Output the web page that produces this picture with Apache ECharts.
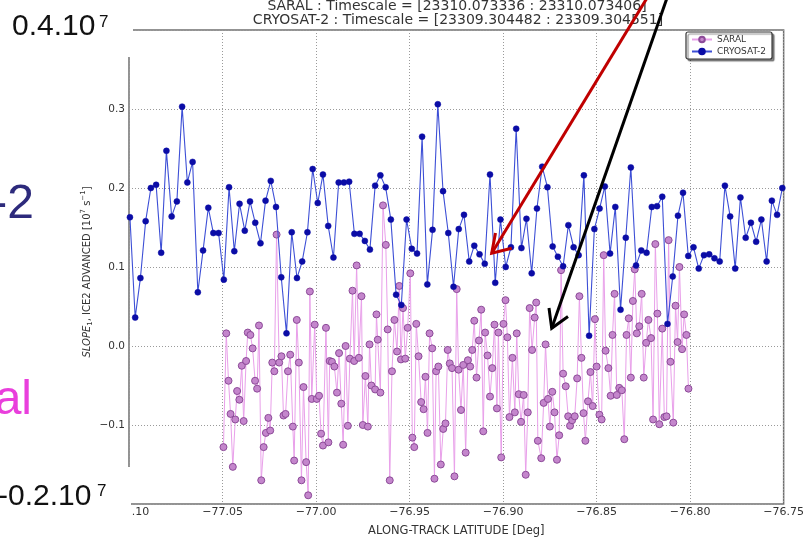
<!DOCTYPE html>
<html>
<head>
<meta charset="utf-8">
<script src="https://cdn.jsdelivr.net/npm/echarts@6/dist/echarts.min.js"></script>
<style>
html,body{margin:0;padding:0;background:#fff;}
#c{width:807px;height:542px;}
</style>
</head>
<body>
<div id="c"></div>
<script>
// ---------- DATA ----------
const titleLines = [
  "SARAL : Timescale = [23310.073336 : 23310.073406]",
  "CRYOSAT-2 : Timescale = [23309.304482 : 23309.304551]"
];
const seriesNames = ["SARAL", "CRYOSAT-2"];
const yAxisTitle = '{i|SLOPE}{sb|1}{n|, ICE2 ADVANCED [10}{sp|7}{n| s}{sp|\u22121}{n|]}';

const cryoLat = [
-77.0995,-77.0967,-77.0939,-77.0911,-77.0883,-77.0855,-77.0828,-77.0800,-77.0772,-77.0744,
-77.0716,-77.0688,-77.0660,-77.0632,-77.0604,-77.0576,-77.0549,-77.0521,-77.0493,-77.0465,
-77.0437,-77.0409,-77.0381,-77.0353,-77.0325,-77.0297,-77.0270,-77.0242,-77.0214,-77.0186,
-77.0158,-77.0130,-77.0102,-77.0074,-77.0046,-77.0018,-76.9991,-76.9963,-76.9935,-76.9907,
-76.9879,-76.9851,-76.9823,-76.9795,-76.9767,-76.9739,-76.9712,-76.9684,-76.9656,-76.9628,
-76.9600,-76.9572,-76.9544,-76.9516,-76.9488,-76.9460,-76.9433,-76.9405,-76.9377,-76.9349,
-76.9321,-76.9293,-76.9265,-76.9237,-76.9209,-76.9181,-76.9154,-76.9126,-76.9098,-76.9070,
-76.9042,-76.9014,-76.8986,-76.8958,-76.8930,-76.8902,-76.8875,-76.8847,-76.8819,-76.8791,
-76.8763,-76.8735,-76.8707,-76.8679,-76.8651,-76.8623,-76.8596,-76.8568,-76.8540,-76.8512,
-76.8484,-76.8456,-76.8428,-76.8400,-76.8372,-76.8344,-76.8317,-76.8289,-76.8261,-76.8233,
-76.8205,-76.8177,-76.8149,-76.8121,-76.8093,-76.8065,-76.8038,-76.8010,-76.7982,-76.7954,
-76.7926,-76.7898,-76.7870,-76.7842,-76.7814,-76.7786,-76.7759,-76.7731,-76.7703,-76.7675,
-76.7647,-76.7619,-76.7591,-76.7563,-76.7535,-76.7507
];
const cryoVals = [
0.163,0.036,0.086,0.158,0.200,0.204,0.118,0.247,0.164,0.183,
0.303,0.207,0.233,0.068,0.121,0.175,0.143,0.143,0.084,0.201,
0.120,0.180,0.146,0.183,0.156,0.130,0.184,0.209,0.176,0.087,
0.016,0.144,0.086,0.107,0.144,0.224,0.181,0.217,0.152,0.112,
0.207,0.207,0.208,0.142,0.142,0.133,0.122,0.203,0.216,0.201,
0.160,0.065,0.052,0.160,0.123,0.117,0.265,0.078,0.147,0.306,
0.196,0.143,0.075,0.148,0.166,0.107,0.127,0.116,0.104,0.217,
0.080,0.160,0.100,0.125,0.275,0.124,0.161,0.092,0.174,0.227,
0.201,0.126,0.113,0.101,0.153,0.125,0.115,0.216,0.013,0.148,
0.174,0.202,0.117,0.176,0.046,0.137,0.226,0.102,0.121,0.118,
0.176,0.177,0.189,0.028,0.088,0.165,0.194,0.114,0.125,0.098,
0.115,0.116,0.111,0.107,0.203,0.164,0.098,0.188,0.137,0.156,
0.132,0.160,0.107,0.184,0.166,0.200
];

const saralLat = [
-77.0495,-77.0480,-77.0468,-77.0457,-77.0445,-77.0432,-77.0422,-77.0410,-77.0397,-77.0387,
-77.0374,-77.0365,-77.0351,-77.0339,-77.0326,-77.0315,-77.0305,-77.0293,-77.0280,-77.0268,
-77.0255,-77.0245,-77.0234,-77.0223,-77.0211,-77.0197,-77.0185,-77.0174,-77.0163,-77.0150,
-77.0138,-77.0124,-77.0117,-77.0103,-77.0092,-77.0078,-77.0067,-77.0053,-77.0042,-77.0033,
-77.0023,-77.0007,-76.9996,-76.9984,-76.9973,-76.9963,-76.9947,-76.9934,-76.9927,-76.9915,
-76.9902,-76.9888,-76.9877,-76.9865,-76.9855,-76.9842,-76.9830,-76.9819,-76.9805,-76.9796,
-76.9783,-76.9771,-76.9757,-76.9750,-76.9736,-76.9723,-76.9714,-76.9704,-76.9684,-76.9677,
-76.9670,
-76.9656,-76.9642,-76.9627,-76.9617,-76.9606,-76.9594,-76.9581,-76.9567,-76.9555,
-76.9546,-76.9535,-76.9523,-76.9510,-76.9496,-76.9485,-76.9475,-76.9464,-76.9452,-76.9438,
-76.9425,-76.9415,-76.9404,-76.9393,-76.9379,-76.9367,-76.9358,-76.9346,-76.9333,-76.9320,
-76.9308,-76.9296,-76.9285,-76.9273,-76.9260,-76.9248,-76.9238,-76.9225,-76.9213,-76.9200,
-76.9188,-76.9176,-76.9165,-76.9154,-76.9142,-76.9129,-76.9117,-76.9106,-76.9096,-76.9083,
-76.9070,-76.9058,-76.9046,-76.9033,-76.9025,-76.9010,-76.8998,-76.8987,-76.8977,-76.8966,
-76.8950,-76.8937,-76.8927,-76.8916,-76.8904,-76.8890,-76.8879,-76.8868,-76.8858,-76.8845,
-76.8831,-76.8823,-76.8814,
-76.8796,-76.8783,-76.8773,-76.8760,-76.8750,-76.8737,-76.8725,-76.8712,-76.8700,
-76.8690,-76.8679,-76.8665,-76.8652,-76.8642,-76.8631,-76.8617,-76.8604,-76.8592,-76.8581,
-76.8570,-76.8560,-76.8546,-76.8533,-76.8521,-76.8509,-76.8500,-76.8485,-76.8473,-76.8462,
-76.8452,-76.8437,-76.8425,-76.8415,-76.8404,-76.8392,-76.8379,-76.8365,-76.8352,-76.8340,
-76.8328,-76.8317,-76.8306,-76.8296,-76.8285,-76.8272,-76.8259,-76.8248,-76.8235,-76.8223,
-76.8209,-76.8198,-76.8186,-76.8175,-76.8165,-76.8149,-76.8138,-76.8126,-76.8115,-76.8105,
-76.8090,-76.8078,-76.8067,-76.8057,-76.8043,-76.8032,-76.8020,-76.8009
];
const saralVals = [
-0.128,0.016,-0.044,-0.086,-0.153,-0.093,-0.057,-0.068,-0.025,-0.095,
-0.019,0.017,0.014,-0.003,-0.044,-0.054,0.026,-0.170,-0.128,-0.110,
-0.091,-0.107,-0.021,-0.032,0.141,-0.021,-0.013,-0.088,-0.086,-0.032,
-0.011,-0.102,-0.145,0.033,-0.021,-0.170,-0.052,-0.147,-0.189,0.069,
-0.067,0.027,-0.067,-0.063,-0.111,-0.126,0.023,-0.122,-0.019,-0.020,
-0.026,-0.059,-0.009,-0.073,-0.125,0.000,-0.101,-0.016,0.070,-0.019,
0.102,-0.015,0.063,-0.100,-0.038,-0.102,0.002,-0.050,-0.055,0.040,
0.008,
-0.059,0.178,0.128,0.021,-0.170,-0.032,0.033,-0.007,0.076,
-0.017,0.048,-0.016,0.023,0.092,-0.116,-0.128,0.028,-0.013,-0.071,
-0.080,-0.039,-0.110,0.016,-0.003,-0.168,-0.032,-0.026,-0.150,-0.105,
-0.098,-0.005,-0.022,-0.028,-0.165,0.072,-0.030,-0.081,-0.024,-0.135,
-0.018,-0.026,-0.005,0.032,-0.040,0.007,0.046,-0.108,0.017,-0.012,
-0.064,-0.028,0.027,-0.079,0.017,-0.141,0.028,0.058,0.011,-0.090,
-0.015,-0.084,0.016,-0.061,-0.096,-0.062,-0.163,-0.084,0.048,-0.005,
0.036,0.055,-0.120,
-0.142,-0.072,0.002,-0.067,-0.102,-0.058,-0.084,-0.144,-0.113,
0.096,-0.035,-0.051,-0.089,-0.101,-0.094,-0.089,-0.041,0.063,-0.015,
-0.085,-0.120,-0.070,-0.033,-0.076,0.034,-0.026,-0.087,-0.093,0.115,
-0.006,-0.028,-0.063,0.014,0.066,-0.062,-0.053,-0.056,-0.118,0.014,
0.035,-0.040,0.057,0.097,0.016,0.025,0.066,-0.040,0.004,0.033,
0.010,-0.093,0.129,0.041,-0.099,0.022,-0.090,-0.089,0.134,-0.020,
-0.097,0.051,0.005,0.100,-0.004,0.040,0.014,-0.054
];

const xTicks = { min: -77.10, max: -76.75, step: 0.05 };
const yTicks = { min: -0.2, max: 0.4, step: 0.1 };

// ---------- CHART ----------
function pairs(xs, ys) {
  const n = Math.min(xs.length, ys.length);
  const out = [];
  for (let i = 0; i < n; i++) out.push([xs[i], ys[i]]);
  return out;
}
const minus = s => s.replace('-', '\u2212');

const chart = echarts.init(document.getElementById('c'), null, { renderer: 'canvas' });
const mono = 'DejaVu Sans';
const richY = {
  i: { fontFamily: mono, fontStyle: 'italic', fontSize: 10, fill: '#333', lineHeight: 14, verticalAlign: 'middle' },
  n: { fontFamily: mono, fontSize: 10, fill: '#333', lineHeight: 14, verticalAlign: 'middle' },
  sb: { fontFamily: mono, fontSize: 7, fill: '#333', lineHeight: 14, verticalAlign: 'bottom' },
  sp: { fontFamily: mono, fontSize: 7, fill: '#333', lineHeight: 14, verticalAlign: 'top' }
};

chart.setOption({
  animation: false,
  backgroundColor: '#ffffff',
  grid: { left: 129, right: 20, top: 30, bottom: 29, show: true, borderColor: '#707070', borderWidth: 1.5, backgroundColor: 'transparent' },
  legend: {
    data: seriesNames,
    orient: 'vertical',
    left: 686, top: 32,
    padding: [3, 6, 3, 5],
    itemGap: 3,
    itemWidth: 20, itemHeight: 7,
    backgroundColor: '#fff',
    borderColor: '#333', borderWidth: 1.2, borderRadius: 2,
    shadowColor: 'rgba(0,0,0,0.45)', shadowOffsetX: 2, shadowOffsetY: 2, shadowBlur: 1,
    textStyle: { fontFamily: mono, fontSize: 9, color: '#333' }
  },
  xAxis: {
    type: 'value', min: xTicks.min, max: xTicks.max, interval: xTicks.step,
    name: 'ALONG-TRACK LATITUDE [Deg]', nameLocation: 'middle', nameGap: 21,
    nameTextStyle: { fontFamily: mono, fontSize: 11.5, color: '#333' },
    axisLine: { show: false }, axisTick: { show: false },
    axisLabel: { fontFamily: mono, fontSize: 11, color: '#333', margin: 3,
      formatter: v => minus(v.toFixed(2)) },
    splitLine: { show: true, lineStyle: { type: [1, 2], color: '#9a9a9a', width: 1 } }
  },
  yAxis: {
    type: 'value', min: yTicks.min, max: yTicks.max, interval: yTicks.step,
    axisLine: { show: false }, axisTick: { show: false },
    axisLabel: { fontFamily: mono, fontSize: 10.5, color: '#333', margin: 4, showMinLabel: false, showMaxLabel: false,
      formatter: v => minus(v.toFixed(1)) },
    splitLine: { show: true, lineStyle: { type: [1, 2], color: '#9a9a9a', width: 1 } }
  },
  series: [
    {
      name: seriesNames[0], type: 'line', data: pairs(saralLat, saralVals),
      symbol: 'circle', symbolSize: 7, showAllSymbol: true,
      lineStyle: { color: '#e9a0ea', width: 1 },
      itemStyle: { color: '#c486cc', borderColor: '#8c4a98', borderWidth: 1 },
      z: 2
    },
    {
      name: seriesNames[1], type: 'line', data: pairs(cryoLat, cryoVals),
      symbol: 'circle', symbolSize: 6, showAllSymbol: true,
      lineStyle: { color: '#3d4fd6', width: 1.1 },
      itemStyle: { color: '#0b0ca6', borderColor: '#0b0ca6', borderWidth: 0.5 },
      z: 3
    }
  ],
  graphic: [
    { type: 'text', z: 50,
      style: { text: titleLines[0], x: 457, y: 6, align: 'center', verticalAlign: 'middle', font: '14px "DejaVu Sans"', fill: '#333' } },
    { type: 'text', z: 50,
      style: { text: titleLines[1], x: 458, y: 20, align: 'center', verticalAlign: 'middle', font: '14px "DejaVu Sans"', fill: '#333' } },
    { type: 'text', z: 50, x: 87, y: 272, rotation: Math.PI / 2,
      style: { text: yAxisTitle, rich: richY, align: 'center', verticalAlign: 'middle', fill: '#333', font: '10px "DejaVu Sans"' } },
    // slide overlays
    { type: 'rect', z: 60, shape: { x: 0, y: 0, width: 133, height: 57 }, style: { fill: '#fff' } },
    { type: 'rect', z: 60, shape: { x: 0, y: 467, width: 131, height: 70 }, style: { fill: '#fff' } },
    { type: 'text', z: 70, style: { x: 12, y: 27, text: '0.4.10', font: '30px "Liberation Sans"', fill: '#111', verticalAlign: 'middle' } },
    { type: 'text', z: 70, style: { x: 99, y: 22, text: '7', font: '17px "Liberation Sans"', fill: '#111', verticalAlign: 'middle' } },
    { type: 'text', z: 70, style: { x: -2, y: 497, text: '-0.2.10', font: '30px "Liberation Sans"', fill: '#111', verticalAlign: 'middle' } },
    { type: 'text', z: 70, style: { x: 97, y: 491, text: '7', font: '17px "Liberation Sans"', fill: '#111', verticalAlign: 'middle' } },
    { type: 'text', z: 70, style: { x: 34, y: 205, text: '-2', align: 'right', font: '48px "Liberation Sans"', fill: '#2d2a7c', verticalAlign: 'middle' } },
    { type: 'text', z: 70, style: { x: 32, y: 401, text: 'al', align: 'right', font: '48px "Liberation Sans"', fill: '#e93fdc', verticalAlign: 'middle' } },
    // arrows
    { type: 'polyline', z: 80, shape: { points: [[647, -2], [491.7, 253.3]] }, style: { stroke: '#c00000', lineWidth: 3 } },
    { type: 'polyline', z: 80, shape: { points: [[495.5, 233], [491.7, 253.3], [511.7, 248.3]] }, style: { stroke: '#c00000', lineWidth: 3, fill: null } },
    { type: 'polyline', z: 80, shape: { points: [[667, -2], [551.7, 328.3]] }, style: { stroke: '#000', lineWidth: 3 } },
    { type: 'polyline', z: 80, shape: { points: [[549, 308], [551.7, 328.3], [568, 316.5]] }, style: { stroke: '#000', lineWidth: 3, fill: null } }
  ]
});
</script>
</body>
</html>
